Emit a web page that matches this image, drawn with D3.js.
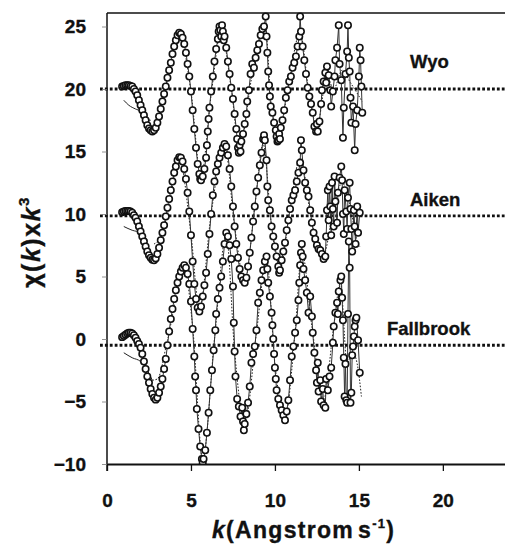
<!DOCTYPE html>
<html>
<head>
<meta charset="utf-8">
<script src="https://cdn.jsdelivr.net/npm/d3@7"></script>
<style>
body { margin: 0; background: #fff; }
text { font-family: "Liberation Sans", Arial, sans-serif; font-weight: bold; fill: #111; stroke: #111; stroke-width: 0.35; }
</style>
</head>
<body>
<svg id="chart" width="505" height="544"></svg>
<script>

// chi(k)*k^3 data, [k, value] (offsets already included)
var wyoData = [
  [0.9,20.2],[1.0,20.25],[1.1,20.3],[1.2,20.3],[1.3,20.3],[1.4,20.25],[1.5,20.2],[1.6,20.0],[1.7,19.8],[1.8,19.5],
  [1.9,19.1],[2.0,18.7],[2.1,18.3],[2.2,17.9],[2.3,17.5],[2.4,17.1],[2.5,16.85],[2.6,16.7],[2.7,16.6],[2.8,16.7],
  [2.9,16.9],[3.0,17.3],[3.1,17.8],[3.2,18.4],[3.3,19.0],[3.4,19.6],[3.5,20.2],[3.6,20.9],[3.7,21.5],[3.8,22.1],
  [3.9,22.8],[4.0,23.4],[4.1,23.9],[4.2,24.3],[4.3,24.5],[4.4,24.4],[4.5,24.1],[4.6,23.6],[4.7,22.9],[4.8,22.0],
  [4.9,21.0],[5.0,19.8],[5.1,18.3],[5.2,16.8],[5.3,15.3],[5.4,14.0],[5.5,13.2],[5.55,12.8],[5.6,12.7],[5.7,13.0],
  [5.8,13.6],[5.9,14.5],[5.95,15.5],[6.0,16.6],[6.05,17.6],[6.1,18.5],[6.2,19.8],[6.3,21.0],[6.4,22.2],[6.5,23.2],
  [6.6,24.0],[6.65,24.6],[6.7,25.0],[6.75,24.7],[6.8,24.2],[6.85,25.1],[6.9,24.6],[6.95,23.9],[7.0,24.2],[7.1,23.3],
  [7.2,22.2],[7.3,21.2],[7.4,20.1],[7.5,19.2],[7.6,18.0],[7.7,16.8],[7.75,16.0],[7.8,15.3],[7.85,14.9],[7.9,15.5],
  [7.95,15.0],[8.0,15.8],[8.1,16.4],[8.2,17.2],[8.3,18.0],[8.35,19.0],[8.45,19.9],[8.55,21.2],[8.65,22.0],[8.75,21.7],
  [8.85,22.5],[8.95,23.1],[9.05,23.6],[9.15,24.3],[9.25,24.8],[9.35,25.0],[9.45,25.8],[9.5,24.2],[9.55,22.9],[9.6,21.4],
  [9.65,20.3],[9.7,19.4],[9.75,18.6],[9.85,18.1],[9.95,17.3],[10.05,16.7],[10.1,16.2],[10.15,15.8],[10.2,15.9],[10.25,16.4],
  [10.3,16.0],[10.35,16.9],[10.45,17.5],[10.55,18.3],[10.65,19.3],[10.75,19.9],[10.85,20.6],[10.95,21.0],[11.05,21.7],[11.15,22.1],
  [11.25,22.6],[11.35,23.4],[11.45,24.2],[11.5,25.8],[11.55,24.6],[11.65,23.4],[11.75,22.3],[11.85,21.2],[11.95,20.1],[12.05,19.4],
  [12.15,18.8],[12.25,18.1],[12.35,17.0],[12.45,16.6],[12.5,17.2],[12.55,16.6],[12.65,17.4],[12.75,18.8],[12.8,19.9],[12.9,20.6],
  [13.0,21.3],[13.05,20.5],[13.1,21.8],[13.2,21.1],[13.3,19.9],[13.35,18.6],[13.45,19.8],[13.55,21.0],[13.6,22.3],[13.7,23.3],
  [13.8,25.1],[13.85,22.0],[13.95,20.7],[14.05,16.1],[14.1,18.5],[14.2,21.2],[14.3,23.0],[14.35,25.1],[14.4,22.5],[14.45,21.4],
  [14.5,19.3],[14.55,17.3],[14.65,18.6],[14.75,15.1],[14.8,17.2],[14.9,18.3],[15.0,21.0],[15.05,23.3],[15.1,22.3],[15.15,20.2],
  [15.2,18.1]
];

var aikenData = [
  [0.9,10.15],[1.0,10.2],[1.1,10.25],[1.2,10.25],[1.3,10.25],[1.4,10.2],[1.5,10.1],[1.6,9.9],[1.7,9.7],[1.8,9.4],
  [1.9,9.0],[2.0,8.6],[2.1,8.2],[2.2,7.8],[2.3,7.4],[2.4,7.0],[2.5,6.7],[2.6,6.5],[2.7,6.35],[2.8,6.3],
  [2.9,6.45],[3.0,6.8],[3.1,7.3],[3.2,7.9],[3.3,8.5],[3.4,9.1],[3.5,9.8],[3.6,10.5],[3.7,11.2],[3.8,11.9],
  [3.9,12.6],[4.0,13.3],[4.1,13.8],[4.2,14.3],[4.3,14.55],[4.4,14.5],[4.5,14.2],[4.6,13.6],[4.7,12.8],[4.8,11.7],
  [4.9,10.2],[5.0,8.3],[5.1,6.2],[5.2,4.4],[5.3,3.2],[5.4,2.5],[5.5,2.2],[5.6,2.6],[5.7,3.4],[5.8,4.3],
  [5.9,5.3],[6.0,6.8],[6.1,8.4],[6.2,10.0],[6.3,11.5],[6.4,12.6],[6.5,13.4],[6.6,14.0],[6.7,14.5],[6.8,14.9],
  [6.9,15.3],[7.0,15.6],[7.1,15.4],[7.2,14.7],[7.3,13.6],[7.4,12.2],[7.5,10.6],[7.6,9.0],[7.7,7.6],[7.8,6.5],
  [7.9,5.6],[8.0,5.0],[8.1,4.7],[8.2,4.5],[8.3,4.9],[8.4,5.8],[8.5,6.9],[8.6,8.1],[8.7,9.4],[8.8,10.6],
  [8.9,11.8],[9.0,12.9],[9.1,13.9],[9.2,14.9],[9.3,16.0],[9.35,16.3],[9.4,15.9],[9.5,14.3],[9.55,12.2],[9.6,11.1],
  [9.7,10.3],[9.8,9.0],[9.9,8.2],[10.0,7.4],[10.1,6.6],[10.2,5.8],[10.25,5.3],[10.3,5.5],[10.4,6.3],[10.5,7.0],
  [10.6,7.7],[10.7,8.7],[10.8,9.5],[10.9,10.4],[11.0,11.1],[11.1,11.5],[11.2,11.9],[11.3,12.6],[11.4,13.3],[11.5,14.1],
  [11.55,15.9],[11.6,15.1],[11.7,13.5],[11.8,12.5],[11.9,11.9],[12.0,11.4],[12.1,10.3],[12.2,9.3],[12.3,8.5],[12.4,8.0],
  [12.5,7.5],[12.6,7.2],[12.7,7.1],[12.8,6.8],[12.9,6.4],[13.0,6.6],[13.05,8.2],[13.1,10.3],[13.15,11.9],[13.2,9.5],
  [13.25,12.2],[13.3,10.6],[13.35,8.3],[13.4,12.5],[13.45,10.4],[13.5,9.0],[13.55,13.0],[13.6,11.0],[13.7,9.3],[13.75,11.7],
  [13.85,12.9],[13.95,13.8],[14.0,12.7],[14.05,10.0],[14.1,8.4],[14.15,11.9],[14.25,10.2],[14.3,8.8],[14.35,11.3],[14.45,12.5],
  [14.5,10.4],[14.55,8.8],[14.6,7.0],[14.7,10.3],[14.75,9.0],[14.8,7.6],[14.9,10.6],[14.95,8.5],[15.05,10.1]
];

var fallbrookData = [
  [0.9,0.15],[1.0,0.25],[1.1,0.35],[1.2,0.45],[1.3,0.5],[1.4,0.5],[1.5,0.45],[1.6,0.3],[1.7,0.1],[1.8,-0.15],
  [1.9,-0.4],[2.0,-0.7],[2.1,-1.2],[2.2,-1.8],[2.3,-2.4],[2.4,-3.0],[2.5,-3.5],[2.6,-4.0],[2.7,-4.4],[2.8,-4.7],
  [2.9,-4.85],[3.0,-4.7],[3.1,-4.3],[3.2,-3.8],[3.3,-3.2],[3.4,-2.4],[3.5,-1.6],[3.6,-0.5],[3.7,0.6],[3.8,1.6],
  [3.9,2.4],[4.0,3.2],[4.1,3.9],[4.2,4.5],[4.3,5.0],[4.4,5.4],[4.5,5.7],[4.6,5.9],[4.7,5.7],[4.8,5.2],
  [4.9,4.4],[5.0,3.0],[5.1,0.8],[5.2,-1.4],[5.25,-3.0],[5.3,-4.1],[5.35,-5.6],[5.45,-7.2],[5.55,-8.6],[5.65,-9.6],
  [5.7,-9.9],[5.75,-9.6],[5.85,-8.9],[5.95,-7.5],[6.05,-5.9],[6.15,-4.1],[6.25,-2.5],[6.35,-0.9],[6.45,0.7],[6.5,2.0],
  [6.6,3.2],[6.7,4.1],[6.8,5.0],[6.9,6.2],[7.0,7.6],[7.1,8.5],[7.2,8.2],[7.3,7.5],[7.4,6.4],[7.5,4.2],
  [7.55,1.3],[7.6,-1.0],[7.65,-3.0],[7.75,-4.8],[7.85,-5.4],[7.95,-6.2],[8.05,-5.5],[8.1,-6.6],[8.15,-7.3],[8.2,-6.8],
  [8.3,-6.0],[8.4,-5.1],[8.5,-3.8],[8.6,-1.9],[8.7,-1.2],[8.8,-0.6],[8.9,0.7],[9.0,2.9],[9.1,3.7],[9.2,4.7],
  [9.3,5.5],[9.4,6.2],[9.5,6.6],[9.55,5.6],[9.6,4.5],[9.7,3.4],[9.8,2.1],[9.85,1.1],[9.9,0.0],[9.95,-1.2],
  [10.0,-2.3],[10.05,-3.2],[10.1,-4.1],[10.2,-4.8],[10.3,-5.3],[10.4,-5.7],[10.5,-6.1],[10.6,-6.5],[10.7,-5.8],[10.8,-4.9],
  [10.9,-3.3],[11.0,-1.4],[11.1,-0.6],[11.2,0.5],[11.3,1.5],[11.4,3.1],[11.45,4.5],[11.5,5.9],[11.55,6.9],[11.6,7.6],
  [11.65,6.6],[11.7,5.6],[11.8,4.7],[11.9,3.7],[12.0,2.1],[12.1,3.4],[12.2,1.8],[12.25,0.5],[12.35,-1.1],[12.45,-2.5],
  [12.5,-3.5],[12.55,-1.9],[12.6,-4.2],[12.7,-3.3],[12.75,-5.0],[12.85,-4.0],[12.9,-5.3],[13.0,-5.5],[13.05,-3.2],[13.15,-4.1],
  [13.25,-3.0],[13.35,-2.3],[13.45,-0.3],[13.5,1.0],[13.6,2.1],[13.7,2.9],[13.75,2.0],[13.8,3.8],[13.9,4.7],[13.95,5.0],
  [14.0,3.3],[14.05,1.5],[14.1,-1.5],[14.15,-4.6],[14.2,-2.0],[14.25,-4.9],[14.3,-5.1],[14.35,2.0],[14.4,7.8],[14.45,5.7],
  [14.5,-5.1],[14.55,-4.3],[14.6,-1.3],[14.65,-0.6],[14.7,0.2],[14.75,1.0],[14.8,1.5],[14.85,1.7],[14.95,-0.1],[15.05,-2.7]
];

// fitted curves (dotted), knots
var wyoFit = [
  [1.0,19.1],[1.3,18.7],[1.7,18.4],[2.0,18.2],[2.3,17.6],[2.6,17.5],[3.0,18.3],[3.5,20.2],[4.3,24.4],[5.0,19.8],
  [5.6,13.0],[6.2,19.5],[6.8,24.6],[7.4,20.0],[7.9,15.2],[8.6,20.8],[9.4,25.2],[9.8,18.5],[10.2,16.0],[10.8,20.3],
  [11.5,24.5],[12.0,20.0],[12.5,17.0],[13.1,21.0],[13.5,20.0],[14.0,21.5],[14.5,20.5],[15.2,19.0]
];
var aikenFit = [
  [1.0,9.0],[1.5,8.7],[2.0,8.5],[2.4,7.9],[2.8,7.6],[3.2,8.2],[3.6,10.0],[4.3,14.4],[5.0,8.4],[5.5,2.4],
  [6.2,10.0],[7.0,15.5],[7.6,9.0],[8.2,4.6],[8.8,10.6],[9.3,15.6],[9.8,9.0],[10.3,5.6],[10.9,10.4],[11.5,14.5],
  [12.2,9.3],[12.9,6.8],[13.5,10.5],[14.0,12.5],[14.5,10.5],[14.9,7.8],[15.05,7.4]
];
var fallbrookFit = [
  [1.0,-1.1],[1.5,-1.5],[2.0,-1.8],[2.4,-2.5],[2.7,-3.3],[3.0,-3.2],[3.6,-0.1],[4.6,5.6],[5.1,1.0],[5.7,-9.6],
  [6.4,0.0],[7.1,8.3],[7.6,-1.0],[8.2,-6.8],[8.9,0.5],[9.5,6.3],[10.0,-2.0],[10.6,-6.2],[11.2,0.5],[11.6,7.0],
  [12.2,1.0],[12.9,-4.8],[13.5,1.0],[13.9,4.5],[14.3,-2.0],[14.6,-1.0],[14.9,-2.0],[15.15,-4.6]
];

var seriesNames = ["Wyo", "Aiken", "Fallbrook"];
var baselines = [20, 9.85, -0.5];
var xTicks = [0, 5, 10, 15, 20];
var yTicks = [-10, -5, 0, 5, 10, 15, 20, 25];

(function() {

var svg = d3.select("#chart");
var pLeft = 107, pRight = 505, pTop = 13, pBottom = 464;

var x = d3.scaleLinear().domain([0, 23.7]).range([pLeft, pRight]);
var y = d3.scaleLinear().domain([-10, 26.08]).range([pBottom, pTop]);

svg.append("defs").append("clipPath").attr("id", "plotclip")
  .append("rect").attr("x", pLeft).attr("y", pTop - 2)
  .attr("width", pRight - pLeft).attr("height", pBottom - pTop + 2);

// baselines
svg.selectAll("line.base").data(baselines).enter().append("line")
  .attr("class", "base")
  .attr("x1", pLeft - 7).attr("x2", pRight)
  .attr("y1", function(d){ return y(d); }).attr("y2", function(d){ return y(d); })
  .attr("stroke", "#111").attr("stroke-width", 2.8)
  .attr("stroke-dasharray", "2.8,2.1");

var plot = svg.append("g").attr("clip-path", "url(#plotclip)");

var dataLine = d3.line().x(function(d){ return x(d[0]); }).y(function(d){ return y(d[1]); });
var fitLine = d3.line().x(function(d){ return x(d[0]); }).y(function(d){ return y(d[1]); })
  .curve(d3.curveMonotoneX);

var series = [
  { data: fallbrookData, fit: fallbrookFit },
  { data: aikenData, fit: aikenFit },
  { data: wyoData, fit: wyoFit }
];

series.forEach(function(s) {
  // low-k part of the fit shows as a thin solid line, the rest dotted
  plot.append("path")
    .attr("d", fitLine(s.fit.filter(function(d){ return d[0] <= 2.7; })))
    .attr("fill", "none").attr("stroke", "#222").attr("stroke-width", 1);
  plot.append("path")
    .attr("d", fitLine(s.fit.filter(function(d){ return d[0] >= 2.7; })))
    .attr("fill", "none").attr("stroke", "#222").attr("stroke-width", 1)
    .attr("stroke-dasharray", "1.6,1.6");
  plot.append("path")
    .attr("d", dataLine(s.data))
    .attr("fill", "none").attr("stroke", "#333").attr("stroke-width", 1);
  plot.append("g").selectAll("circle").data(s.data).enter().append("circle")
    .attr("cx", function(d){ return x(d[0]); })
    .attr("cy", function(d){ return y(d[1]); })
    .attr("r", 3.2)
    .attr("fill", "#fff")
    .attr("stroke", "#111")
    .attr("stroke-width", 1.6);
});

// frame: left and top
svg.append("line").attr("x1", pLeft).attr("x2", pLeft).attr("y1", pTop).attr("y2", pBottom + 7)
  .attr("stroke", "#111").attr("stroke-width", 1.5);
svg.append("line").attr("x1", pLeft).attr("x2", pRight).attr("y1", pTop).attr("y2", pTop)
  .attr("stroke", "#111").attr("stroke-width", 1.5);

var xAxis = svg.append("g").attr("transform", "translate(0," + pBottom + ")")
  .call(d3.axisBottom(x).tickValues(xTicks).tickSize(7).tickPadding(23).tickSizeOuter(0));
xAxis.select(".domain").attr("stroke", "#111").attr("stroke-width", 1.8);
xAxis.selectAll(".tick line").attr("stroke", "#111").attr("stroke-width", 1.3);
xAxis.selectAll(".tick text").attr("font-size", 19).attr("font-family", null).attr("fill", "#111");

var yAxis = svg.append("g").attr("transform", "translate(" + pLeft + ",0)")
  .call(d3.axisLeft(y).tickValues(yTicks).tickSize(5).tickPadding(16).tickSizeOuter(0));
yAxis.select(".domain").remove();
yAxis.selectAll(".tick line").attr("stroke", "#777").attr("stroke-width", 0.8);
yAxis.selectAll(".tick text").attr("font-size", 19).attr("font-family", null).attr("fill", "#111");

// series labels
var labelX = [410, 410, 387];
var labelDy = [-21, -10, -10];
svg.selectAll("text.name").data(seriesNames).enter().append("text")
  .attr("class", "name")
  .attr("x", function(d, i){ return labelX[i]; })
  .attr("y", function(d, i){ return y(baselines[i]) + labelDy[i]; })
  .attr("font-size", 18.5)
  .text(function(d){ return d; });

// axis titles
var xt = svg.append("text").attr("x", 212).attr("y", 538).attr("font-size", 23)
  .attr("letter-spacing", 1.3);
xt.append("tspan").attr("font-style", "italic").text("k");
xt.append("tspan").text("(Angstrom");
xt.append("tspan").attr("dx", 4).text("s");
xt.append("tspan").attr("font-size", 13).attr("dy", -10).text("-1");
xt.append("tspan").attr("dy", 10).text(")");

var yt = svg.append("text").attr("transform", "translate(40,242) rotate(-90)")
  .attr("text-anchor", "middle").attr("font-size", 25).attr("letter-spacing", 1.5);
yt.append("tspan").text("\u03c7(");
yt.append("tspan").attr("font-style", "italic").text("k");
yt.append("tspan").text(")x");
yt.append("tspan").attr("font-style", "italic").text("k");
yt.append("tspan").attr("font-size", 15).attr("dy", -11).text("3");

})();

</script>
</body>
</html>
